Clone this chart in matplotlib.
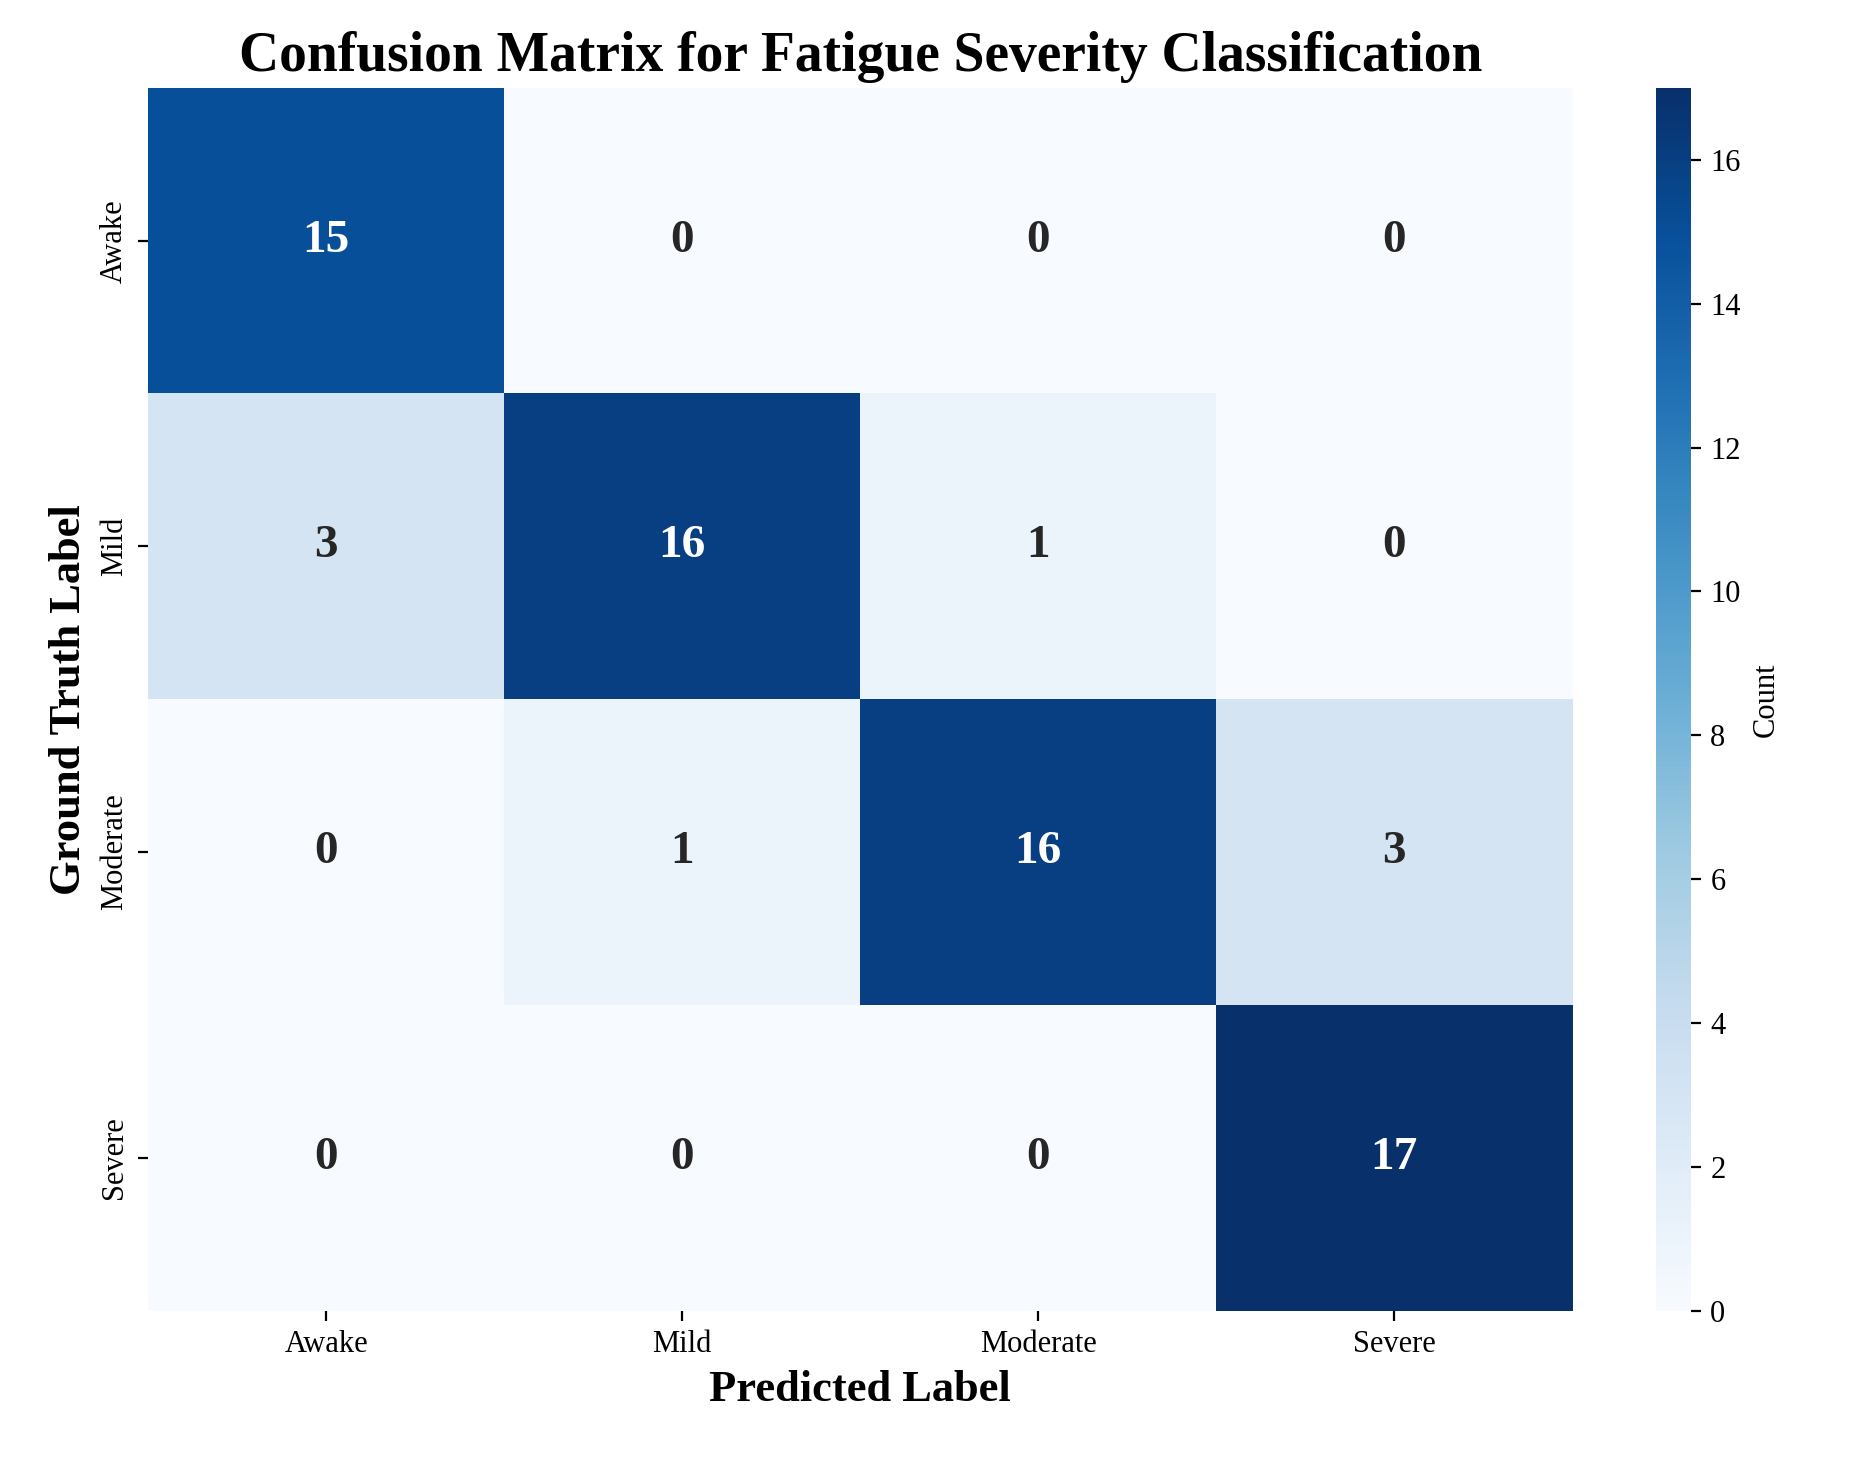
import numpy as np
import matplotlib
matplotlib.use("Agg")
import matplotlib.pyplot as plt

plt.rcParams["font.family"] = "Liberation Serif"

labels = ["Awake", "Mild", "Moderate", "Severe"]
matrix = np.array([
    [15, 0, 0, 0],
    [3, 16, 1, 0],
    [0, 1, 16, 3],
    [0, 0, 0, 17],
])

fig = plt.figure(figsize=(9.26, 7.33), dpi=200)
ax = fig.add_axes([0.080, 0.106, 0.769, 0.834])
cax = fig.add_axes([0.894, 0.106, 0.019, 0.834])

im = ax.imshow(matrix, cmap="Blues", vmin=0, vmax=matrix.max(), aspect="auto")
vmax = matrix.max()
for i in range(matrix.shape[0]):
    for j in range(matrix.shape[1]):
        v = matrix[i, j]
        ax.text(j, i, str(v), ha="center", va="center", fontsize=17, fontweight="bold",
                color="white" if v > vmax / 2 else "#262626")

ax.set_xticks(range(len(labels)))
ax.set_xticklabels(labels, fontsize=11)
ax.set_yticks(range(len(labels)))
ax.set_yticklabels(labels, fontsize=11, rotation=90, va="center")
for s in ax.spines.values():
    s.set_visible(False)
ax.set_xlabel("Predicted Label", fontsize=16, fontweight="bold")
ax.set_ylabel("Ground Truth Label", fontsize=16, fontweight="bold")
ax.set_title("Confusion Matrix for Fatigue Severity Classification", fontsize=20,
             fontweight="bold", pad=6)

cb = fig.colorbar(im, cax=cax)
cb.set_ticks(range(0, 17, 2))
cb.ax.tick_params(labelsize=11)
cb.outline.set_visible(False)
cb.set_label("Count", fontsize=11)

fig.savefig("out.png", dpi=200)
